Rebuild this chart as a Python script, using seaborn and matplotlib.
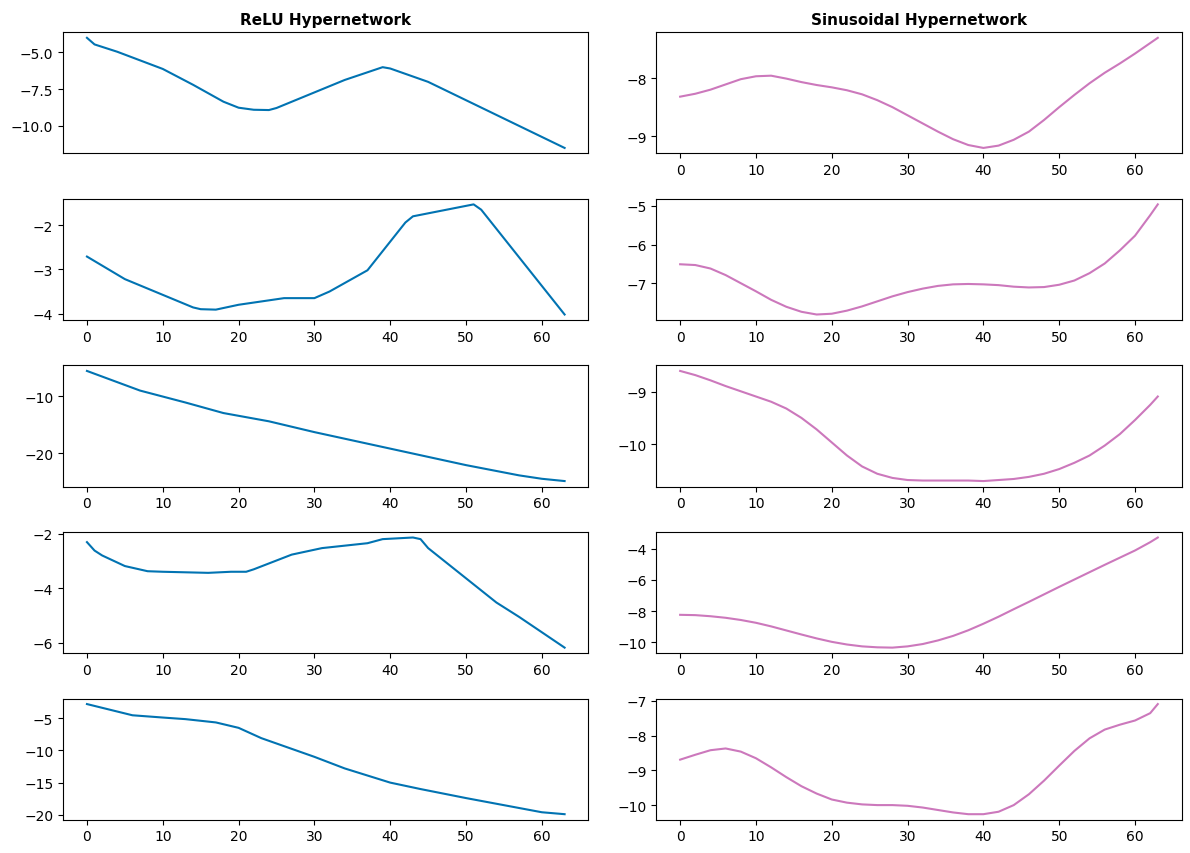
import matplotlib
matplotlib.use("Agg")
import matplotlib.pyplot as plt
import seaborn as sns

# ReLU hypernetwork outputs (piecewise linear, knots)
relu_x1 = [0, 1, 4, 10, 14, 18, 20, 22, 24, 25, 34, 39, 40, 45, 63]
relu_y1 = [-4.0, -4.45, -4.95, -6.12, -7.2, -8.35, -8.76, -8.9, -8.92, -8.78, -6.87, -6.0, -6.09, -7.0, -11.5]

relu_x2 = [0, 5, 14, 15, 17, 20, 24, 26, 30, 32, 37, 42, 43, 51, 52, 63]
relu_y2 = [-2.71, -3.22, -3.86, -3.90, -3.91, -3.80, -3.70, -3.65, -3.65, -3.50, -3.02, -1.94, -1.80, -1.53, -1.65, -4.02]

relu_x3 = [0, 7, 13, 18, 24, 30, 40, 50, 57, 60, 63]
relu_y3 = [-5.55, -9.0, -11.1, -12.95, -14.4, -16.3, -19.2, -22.1, -23.9, -24.5, -24.9]

relu_x4 = [0, 1, 2, 5, 8, 10, 16, 19, 21, 22, 27, 31, 37, 39, 43, 44, 45, 54, 57, 63]
relu_y4 = [-2.30, -2.61, -2.79, -3.18, -3.37, -3.39, -3.43, -3.39, -3.39, -3.30, -2.76, -2.52, -2.34, -2.19, -2.13, -2.19, -2.52, -4.52, -5.05, -6.18]

relu_x5 = [0, 6, 10, 13, 17, 20, 23, 30, 34, 40, 44, 50, 60, 63]
relu_y5 = [-2.81, -4.55, -4.9, -5.15, -5.66, -6.5, -8.1, -11.0, -12.8, -15.0, -16.0, -17.4, -19.6, -19.9]

# Sinusoidal hypernetwork outputs, sampled every 2 steps
sine_x = [0, 2, 4, 6, 8, 10, 12, 14, 16, 18, 20, 22, 24, 26, 28, 30,
          32, 34, 36, 38, 40, 42, 44, 46, 48, 50, 52, 54, 56, 58, 60, 62, 63]
sine_y1 = [-8.32, -8.27, -8.20, -8.11, -8.02, -7.97, -7.96, -8.01, -8.07, -8.12, -8.16,
           -8.21, -8.28, -8.38, -8.50, -8.64, -8.78, -8.92, -9.05, -9.15, -9.20, -9.16,
           -9.06, -8.92, -8.72, -8.50, -8.29, -8.09, -7.91, -7.75, -7.58, -7.40, -7.31]
sine_y2 = [-6.51, -6.53, -6.62, -6.79, -7.00, -7.21, -7.43, -7.61, -7.74, -7.81, -7.79,
           -7.71, -7.60, -7.47, -7.34, -7.23, -7.14, -7.07, -7.03, -7.02, -7.03, -7.05,
           -7.09, -7.11, -7.10, -7.04, -6.93, -6.74, -6.49, -6.15, -5.77, -5.24, -4.96]
sine_y3 = [-8.60, -8.68, -8.78, -8.89, -8.99, -9.09, -9.19, -9.32, -9.50, -9.72, -9.97,
           -10.22, -10.43, -10.57, -10.65, -10.69, -10.70, -10.70, -10.70, -10.70, -10.71, -10.69,
           -10.67, -10.63, -10.57, -10.48, -10.36, -10.22, -10.03, -9.81, -9.54, -9.25, -9.09]
sine_y4 = [-8.23, -8.25, -8.32, -8.42, -8.56, -8.74, -8.97, -9.23, -9.49, -9.74, -9.96,
           -10.13, -10.25, -10.31, -10.33, -10.25, -10.10, -9.87, -9.58, -9.22, -8.80, -8.35,
           -7.87, -7.40, -6.92, -6.44, -5.97, -5.50, -5.03, -4.57, -4.11, -3.58, -3.28]
sine_y5 = [-8.69, -8.55, -8.42, -8.37, -8.46, -8.65, -8.91, -9.19, -9.45, -9.66, -9.83,
           -9.92, -9.97, -9.99, -9.99, -10.01, -10.06, -10.13, -10.20, -10.25, -10.25, -10.18,
           -9.99, -9.68, -9.29, -8.86, -8.44, -8.08, -7.83, -7.69, -7.57, -7.36, -7.10]

relu_series = [(relu_x1, relu_y1), (relu_x2, relu_y2), (relu_x3, relu_y3),
               (relu_x4, relu_y4), (relu_x5, relu_y5)]
sine_series = [sine_y1, sine_y2, sine_y3, sine_y4, sine_y5]

palette = sns.color_palette("colorblind")
relu_color = palette[0]
sine_color = palette[4]

fig, axes = plt.subplots(5, 2, figsize=(11.9, 8.54), dpi=100)
fig.subplots_adjust(left=0.053, right=0.993, top=0.961, bottom=0.039, hspace=0.375, wspace=0.129)

for row in range(5):
    ax_l, ax_r = axes[row]
    xs, ys = relu_series[row]
    sns.lineplot(x=xs, y=ys, color=relu_color, ax=ax_l)
    sns.lineplot(x=sine_x, y=sine_series[row], color=sine_color, ax=ax_r)
    for ax in (ax_l, ax_r):
        ax.set_xticks([0, 10, 20, 30, 40, 50, 60])

axes[0, 0].set_xticks([])
axes[0, 0].set_title("ReLU Hypernetwork", fontsize=11, fontweight="bold")
axes[0, 1].set_title("Sinusoidal Hypernetwork", fontsize=11, fontweight="bold")

fig.savefig("out.png", dpi=100)
plt.close(fig)
